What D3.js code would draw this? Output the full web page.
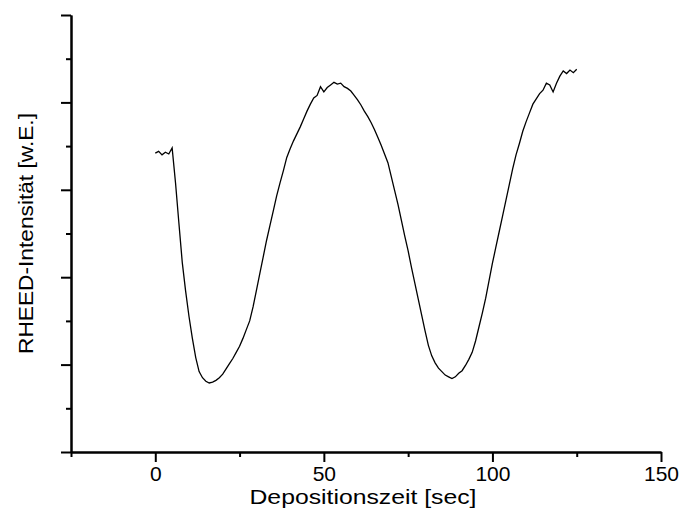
<!DOCTYPE html>
<html>
<head>
<meta charset="utf-8">
<script src="https://cdn.jsdelivr.net/npm/d3@7"></script>
<style>
  body { margin: 0; background: #fff; }
  svg { display: block; }
  .axis path, .axis line { stroke: #000; stroke-width: 2px; }
  .axis text { font-family: "Liberation Sans", Arial, sans-serif; font-size: 21px; fill: #000; }
  .axisLabels { font-family: "Liberation Sans", Arial, sans-serif; font-size: 21px; fill: #000; }
</style>
</head>
<body>
<svg></svg>
<script>
var width = 687;
var height = 509;
var margin = {top: 15, right: 26, bottom: 57, left: 71};
var plotW = width - margin.left - margin.right;
var plotH = height - margin.top - margin.bottom;

// deposition time in sec
var times = d3.range(0, 126);
// RHEED intensity (arb. units), 1 sec steps
var intensity = [
  3.42, 3.44, 3.40, 3.43, 3.41, 3.48, 3.08, 2.62, 2.17, 1.84,
  1.55, 1.30, 1.08, 0.92, 0.85, 0.81, 0.79, 0.80, 0.82, 0.85,
  0.89, 0.95, 1.01, 1.07, 1.14, 1.21, 1.30, 1.40, 1.50, 1.66,
  1.85, 2.04, 2.23, 2.42, 2.59, 2.76, 2.93, 3.08, 3.22, 3.37,
  3.47, 3.56, 3.64, 3.72, 3.81, 3.90, 3.98, 4.05, 4.08, 4.18,
  4.12, 4.17, 4.20, 4.23, 4.21, 4.22, 4.18, 4.16, 4.13, 4.08,
  4.03, 3.97, 3.90, 3.84, 3.77, 3.69, 3.60, 3.51, 3.41, 3.31,
  3.15, 2.99, 2.83, 2.65, 2.47, 2.30, 2.11, 1.93, 1.75, 1.57,
  1.39, 1.22, 1.10, 1.02, 0.96, 0.92, 0.88, 0.86, 0.84, 0.86,
  0.90, 0.93, 0.99, 1.06, 1.14, 1.27, 1.43, 1.59, 1.76, 1.96,
  2.16, 2.34, 2.52, 2.70, 2.88, 3.06, 3.24, 3.40, 3.53, 3.67,
  3.78, 3.88, 3.98, 4.04, 4.10, 4.14, 4.22, 4.20, 4.12, 4.22,
  4.30, 4.36, 4.33, 4.37, 4.34, 4.38
];
var xMajorTicks = [0, 50, 100, 150];
var xMinorTicks = [-25, 25, 75, 125];
var yMajorTicks = [0, 1, 2, 3, 4, 5];
var yMinorTicks = [0.5, 1.5, 2.5, 3.5, 4.5];

var svg = d3.select("svg")
    .attr("width", width)
    .attr("height", height)
    .append("g")
    .attr("transform", "translate(" + margin.left + "," + margin.top + ")");

var xScale = d3.scaleLinear().domain([-25, 150]).range([0, plotW]);
var yScale = d3.scaleLinear().domain([0, 5]).range([plotH, 0]);

// minor ticks first, majors drawn on top
svg.append("g")
    .attr("class", "axis")
    .attr("transform", "translate(0," + plotH + ")")
    .call(d3.axisBottom(xScale).tickValues(xMinorTicks).tickSize(5).tickSizeOuter(0).tickFormat(""));

svg.append("g")
    .attr("class", "axis")
    .attr("transform", "translate(0," + plotH + ")")
    .call(d3.axisBottom(xScale).tickValues(xMajorTicks).tickSize(10).tickSizeOuter(0).tickPadding(4).tickFormat(d3.format("d")));

svg.append("g")
    .attr("class", "axis")
    .call(d3.axisLeft(yScale).tickValues(yMinorTicks).tickSize(5).tickSizeOuter(0).tickFormat(""));

svg.append("g")
    .attr("class", "axis")
    .call(d3.axisLeft(yScale).tickValues(yMajorTicks).tickSize(10).tickSizeOuter(0).tickFormat(""));

svg.append("text")
    .attr("class", "axisLabels")
    .attr("x", plotW / 2 - 3)
    .attr("y", plotH + 52)
    .attr("textLength", 227)
    .attr("lengthAdjust", "spacingAndGlyphs")
    .style("text-anchor", "middle")
    .text("Depositionszeit [sec]");

svg.append("text")
    .attr("class", "axisLabels")
    .attr("transform", "rotate(-90)")
    .attr("x", -plotH / 2)
    .attr("y", -38)
    .attr("textLength", 241)
    .attr("lengthAdjust", "spacingAndGlyphs")
    .style("text-anchor", "middle")
    .text("RHEED-Intensität [w.E.]");

var line = d3.line()
    .x(function(d, i) { return xScale(times[i]); })
    .y(function(d) { return yScale(d); });

svg.append("path")
    .datum(intensity)
    .attr("fill", "none")
    .attr("stroke", "#000")
    .attr("stroke-width", 1.3)
    .attr("d", line);
</script>
</body>
</html>
